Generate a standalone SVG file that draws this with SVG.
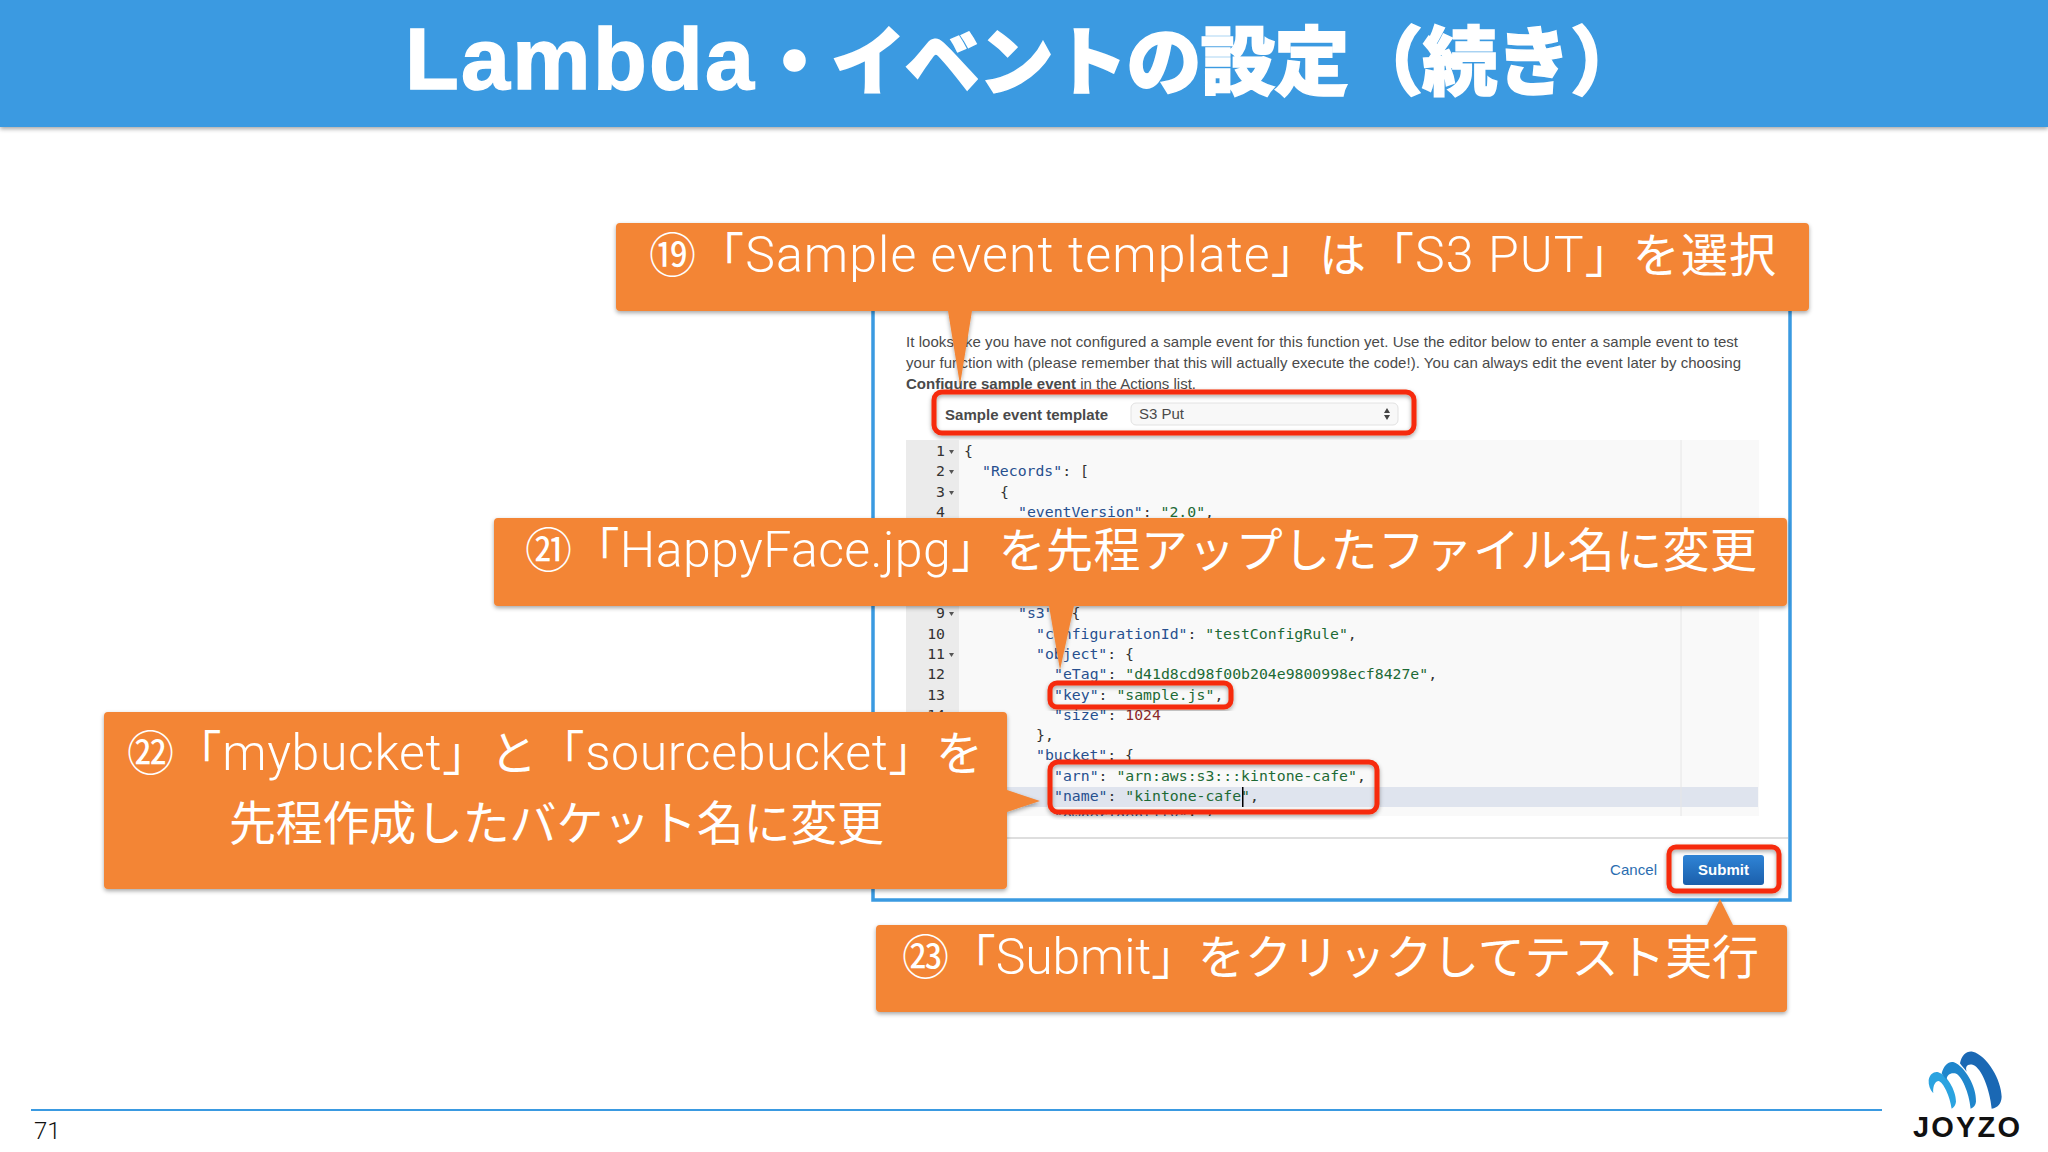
<svg xmlns="http://www.w3.org/2000/svg" width="2048" height="1152" viewBox="0 0 2048 1152">
<defs>
<filter id="sh" x="-5%" y="-10%" width="110%" height="125%"><feDropShadow dx="0" dy="2" stdDeviation="2" flood-color="#000" flood-opacity=".35"/></filter>
<linearGradient id="btn" x1="0" y1="0" x2="0" y2="1"><stop offset="0" stop-color="#2f84d6"/><stop offset="1" stop-color="#1b5fab"/></linearGradient>
<clipPath id="ed"><rect x="906" y="440" width="853" height="376"/></clipPath>
</defs>
<style>
.jp{font-family:"Noto Sans CJK JP","Noto Sans",sans-serif;font-size:47px;fill:#fff;font-weight:400}
.lat{font-family:"Roboto","Noto Sans CJK JP",sans-serif;font-size:50px;font-weight:300}
.co{fill:#f38535;filter:url(#sh)}
.red{fill:none;stroke:#f62b0a;stroke-width:5;filter:url(#sh)}
.ui{font-family:"Liberation Sans",Arial,sans-serif;font-size:15px;fill:#4a4a4a}
.c{font-family:"DejaVu Sans Mono","Liberation Mono",monospace;font-size:14.8px;fill:#333}
.n{font-family:"DejaVu Sans Mono","Liberation Mono",monospace;font-size:14.8px;fill:#333;text-anchor:end}
.k{fill:#27508f}.s{fill:#1d6a35}.d{fill:#8c2a2a}
.f{fill:#555}
</style>
<rect width="2048" height="1152" fill="#fff"/>
<g id="header">
<rect width="2048" height="127" fill="#3a9ae1" filter="url(#sh)"/>
<text y="89" fill="#fff" stroke="#fff" stroke-width="1.5" font-size="75" font-weight="900" font-family="'Noto Sans CJK JP',sans-serif"><tspan x="405" textLength="349" font-family="'Liberation Sans',Arial,sans-serif" font-weight="700" font-size="88">Lambda</tspan><tspan x="757" textLength="888">・イベントの設定（続き）</tspan></text>
</g>
<g id="screenshot">
<rect x="873" y="300" width="917" height="600" fill="#fff" stroke="#3a9ae1" stroke-width="3.5"/>
<text class="ui" x="906" y="347" textLength="832">It looks like you have not configured a sample event for this function yet. Use the editor below to enter a sample event to test</text>
<text class="ui" x="906" y="368" textLength="835">your function with (please remember that this will actually execute the code!). You can always edit the event later by choosing</text>
<text class="ui" x="906" y="389" textLength="290"><tspan font-weight="700">Configure sample event</tspan> in the Actions list.</text>
<text class="ui" x="945" y="420" font-weight="700" textLength="163">Sample event template</text>
<rect x="1131" y="403" width="267" height="22" rx="5" fill="#f8f8f8" stroke="#e2e2e2"/>
<text class="ui" x="1139" y="419">S3 Put</text>
<path d="M1387 408l3 5h-6zM1387 420l3-5h-6z" fill="#444"/>
<rect x="906" y="440" width="853" height="376" fill="#f9f9f9"/>
<rect x="906" y="440" width="53" height="376" fill="#ebebeb"/>
<rect x="1007" y="787" width="751" height="20" fill="#dfe4ee"/>
<line x1="1681" y1="440" x2="1681" y2="816" stroke="#e6e6e6"/>
<g clip-path="url(#ed)">
<text class="n" x="945" y="456">1</text><text class="n" x="945" y="476">2</text><text class="n" x="945" y="497">3</text><text class="n" x="945" y="517">4</text>
<text class="n" x="945" y="618">9</text><text class="n" x="945" y="639">10</text><text class="n" x="945" y="659">11</text><text class="n" x="945" y="679">12</text><text class="n" x="945" y="700">13</text><text class="n" x="945" y="720">14</text>
<path class="f" d="M949 450h5l-2.500 4zM949 470h5l-2.500 4zM949 491h5l-2.500 4zM949 612h5l-2.500 4zM949 653h5l-2.500 4z"/>
<text class="c" x="964" y="456">{</text>
<text class="c" x="982" y="476"><tspan class="k">"Records"</tspan>: [</text>
<text class="c" x="1000" y="497">{</text>
<text class="c" x="1018" y="517"><tspan class="k">"eventVersion"</tspan>: <tspan class="s">"2.0"</tspan>,</text>
<text class="c" x="1018" y="618"><tspan class="k">"s3"</tspan>: {</text>
<text class="c" x="1036" y="639"><tspan class="k">"configurationId"</tspan>: <tspan class="s">"testConfigRule"</tspan>,</text>
<text class="c" x="1036" y="659"><tspan class="k">"object"</tspan>: {</text>
<text class="c" x="1054" y="679"><tspan class="k">"eTag"</tspan>: <tspan class="s">"d41d8cd98f00b204e9800998ecf8427e"</tspan>,</text>
<text class="c" x="1054" y="700"><tspan class="k">"key"</tspan>: <tspan class="s">"sample.js"</tspan>,</text>
<text class="c" x="1054" y="720"><tspan class="k">"size"</tspan>: <tspan class="d">1024</tspan></text>
<text class="c" x="1036" y="740">},</text>
<text class="c" x="1036" y="760"><tspan class="k">"bucket"</tspan>: {</text>
<text class="c" x="1054" y="781"><tspan class="k">"arn"</tspan>: <tspan class="s">"arn:aws:s3:::kintone-cafe"</tspan>,</text>
<text class="c" x="1054" y="801"><tspan class="k">"name"</tspan>: <tspan class="s">"kintone-cafe"</tspan>,</text>
<text class="c" x="1054" y="821"><tspan class="k">"ownerIdentity"</tspan>: {</text>
<rect x="1242" y="787" width="1.500" height="20" fill="#000"/>
</g>
<line x1="875" y1="838" x2="1788" y2="838" stroke="#dedede" stroke-width="2"/>
<text class="ui" x="1610" y="875" style="fill:#2a6db0" textLength="47">Cancel</text>
<rect x="1683" y="855" width="81" height="30" rx="3" fill="url(#btn)"/>
<text class="ui" x="1723.500" y="875" text-anchor="middle" font-weight="700" style="fill:#fff">Submit</text>
</g>
<g id="highlights">
<rect id="hl-template" class="red" x="934" y="392" width="480" height="41" rx="8"/>
<rect id="hl-key" class="red" x="1050" y="683" width="181" height="24" rx="7"/>
<rect id="hl-bucket" class="red" x="1050" y="762" width="327" height="50" rx="8"/>
<rect id="hl-submit" class="red" x="1669" y="847" width="110" height="44" rx="7"/>
</g>
<g id="callout-19">
<path class="co" d="M620 223H1805a4 4 0 0 1 4 4V307a4 4 0 0 1-4 4H972L960 385 948 311H620a4 4 0 0 1-4-4V227a4 4 0 0 1 4-4Z"/>
<text class="jp" x="649" y="272" textLength="1127">⑲「<tspan class="lat">Sample event template</tspan>」は「<tspan class="lat">S3 PUT</tspan>」を選択</text>
</g>
<g id="callout-21">
<path class="co" d="M498 518H1783a4 4 0 0 1 4 4V602a4 4 0 0 1-4 4H1074L1060 670 1049 606H498a4 4 0 0 1-4-4V522a4 4 0 0 1 4-4Z"/>
<text class="jp" x="525" y="567" textLength="1232">㉑「<tspan class="lat">HappyFace.jpg</tspan>」を先程アップしたファイル名に変更</text>
</g>
<g id="callout-22">
<path class="co" d="M108 712H1003a4 4 0 0 1 4 4V790L1040 801 1007 812V885a4 4 0 0 1-4 4H108a4 4 0 0 1-4-4V716a4 4 0 0 1 4-4Z"/>
<text class="jp" x="127" y="770" textLength="856">㉒「<tspan class="lat">mybucket</tspan>」と「<tspan class="lat">sourcebucket</tspan>」を</text>
<text class="jp" x="229" y="840" textLength="655">先程作成したバケット名に変更</text>
</g>
<g id="callout-23">
<path class="co" d="M880 925H1707L1720 899 1733 925H1783a4 4 0 0 1 4 4V1008a4 4 0 0 1-4 4H880a4 4 0 0 1-4-4V929a4 4 0 0 1 4-4Z"/>
<text class="jp" x="902" y="974" textLength="857">㉓「<tspan class="lat">Submit</tspan>」をクリックしてテスト実行</text>
</g>
<g id="footer">
<line x1="31" y1="1110" x2="1882" y2="1110" stroke="#3a9ae1" stroke-width="2"/>
<text x="34" y="1139" font-family="Roboto,sans-serif" font-weight="300" font-size="24" fill="#111">71</text>
</g>
<g id="logo">
<g transform="translate(1850 1030) scale(.3333)">
<path fill="#2ba3e0" d="M236 150C240 132 252 124 265 127C290 135 318 180 318 215C317 225 312 232 305 236C300 200 280 155 265 153C252 155 248 175 250 190C240 180 235 165 236 150Z"/>
<path fill="#1f86cc" d="M275 130C282 105 296 93 312 97C345 110 380 170 378 215C377 225 372 232 362 236C358 190 335 135 315 130C300 128 290 135 290 150C285 143 278 137 275 130Z"/>
<path fill="#1a68b4" d="M330 100C335 75 350 62 368 65C410 75 455 150 455 200C454 220 445 232 425 236C420 180 395 115 370 105C352 100 345 110 350 125C343 115 335 108 330 100Z"/>
</g>
<text x="1913" y="1137" textLength="107" font-family="'Liberation Sans',Arial,sans-serif" font-weight="700" font-size="29" fill="#111">JOYZO</text>
</g>
</svg>
